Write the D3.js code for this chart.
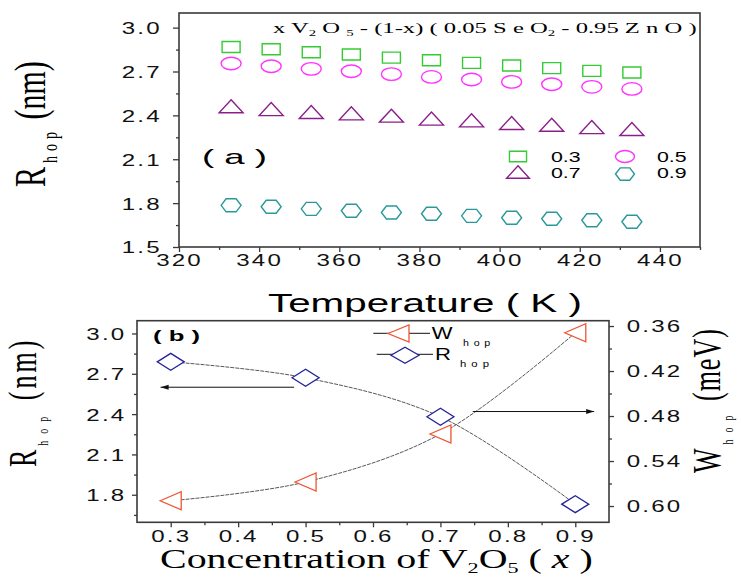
<!DOCTYPE html>
<html><head><meta charset="utf-8">
<script src="https://cdn.jsdelivr.net/npm/d3@7"></script>
<style>body{margin:0;background:#fff}svg{display:block}</style>
</head><body>
<svg id="c" width="741" height="577"></svg>
<script>
// ---------- data ----------
const temps = [333,343,353,363,373,383,393,403,413,423,433];
const r03 = [2.868,2.852,2.832,2.816,2.795,2.777,2.759,2.741,2.723,2.704,2.693];
const r05 = [2.755,2.736,2.718,2.702,2.682,2.663,2.645,2.629,2.613,2.595,2.581];
const r07 = [2.462,2.443,2.423,2.414,2.398,2.378,2.366,2.348,2.336,2.320,2.307];
const r09 = [1.785,1.775,1.761,1.748,1.736,1.727,1.713,1.700,1.693,1.683,1.673];
const seriesNames = ["0.3","0.5","0.7","0.9"];
const conc = [0.3,0.5,0.7,0.9];
const rhop = [2.789,2.670,2.380,1.730];
const whop = [0.593,0.568,0.504,0.369];
const tempTicks = [320,340,360,380,400,420,440];
const tempMinor = [330,350,370,390,410,430,450];
const rTicksTop = [1.5,1.8,2.1,2.4,2.7,3.0];
const rMinorTop = [1.65,1.95,2.25,2.55,2.85];
const concTicks = [0.3,0.4,0.5,0.6,0.7,0.8,0.9];
const concMinor = [0.35,0.45,0.55,0.65,0.75,0.85];
const rTicksBot = [1.8,2.1,2.4,2.7,3.0];
const rMinorBot = [1.65,1.95,2.25,2.55,2.85];
const wTicks = [0.36,0.42,0.48,0.54,0.60];
const wMinor = [0.39,0.45,0.51,0.57];

const svg = d3.select("#c");
const SANS = "'Liberation Sans', Arial, sans-serif";
const SERIF = "'Liberation Serif', 'Times New Roman', serif";
const FRAME = "#3a3a3a";

// ---------- shapes ----------
const shapes = {
  square:(w,h)=>`M${-w/2},${-h/2}H${w/2}V${h/2}H${-w/2}Z`,
  ellipse:(w,h)=>`M${-w/2},0A${w/2},${h/2} 0 1,0 ${w/2},0A${w/2},${h/2} 0 1,0 ${-w/2},0Z`,
  triUp:(w,h)=>`M0,${-h/2}L${w/2},${h/2}L${-w/2},${h/2}Z`,
  hex:(w,h)=>`M${-w/2},0L${-w/4},${-h/2}L${w/4},${-h/2}L${w/2},0L${w/4},${h/2}L${-w/4},${h/2}Z`,
  diamond:(w,h)=>`M${-w/2},0L0,${-h/2}L${w/2},0L0,${h/2}Z`,
  triLeft:(w,h)=>`M${-w/2},0L${w/2},${-h/2}L${w/2},${h/2}Z`
};

function fitText(g, x, y, target, build, opts={}) {
  const t = g.append("text").attr("x",0).attr("y",0)
    .attr("font-family", opts.font||SANS).attr("font-size", opts.size||14)
    .attr("font-weight", opts.weight||"normal").attr("fill", opts.fill||"#000");
  build(t);
  const w = t.node().getBBox().width;
  const s = target / w;
  t.attr("transform", `translate(${x},${y}) scale(${s},1)`);
  return t;
}

function styleTicks(ax) {
  ax.select(".domain").remove();
  ax.selectAll(".tick line").attr("stroke", FRAME).attr("stroke-width", 1.3);
  ax.selectAll("text").attr("font-family", SANS).attr("font-size", 16.5)
    .attr("letter-spacing", "1.5px").attr("fill", "#111");
}

// ================= TOP PANEL =================
const xT = d3.scaleLinear().domain([320,450]).range([179,700]);
const yT = d3.scaleLinear().domain([1.5,3.1]).range([247,13]);
const SX = 1.46;

let ax = svg.append("g").attr("transform","translate(0,247)")
  .call(d3.axisBottom(xT).tickValues(tempTicks).tickSize(5).tickSizeOuter(0).tickFormat(d3.format("d")));
styleTicks(ax);
ax.selectAll("text").attr("y",19).attr("dy",null).attr("transform",`scale(${SX},1)`);
ax = svg.append("g").attr("transform","translate(0,247)")
  .call(d3.axisBottom(xT).tickValues(tempMinor).tickSize(3).tickSizeOuter(0).tickFormat(""));
styleTicks(ax);

ax = svg.append("g").attr("transform","translate(179,0)")
  .call(d3.axisLeft(yT).tickValues(rTicksTop).tickSize(6).tickSizeOuter(0).tickFormat(d3.format(".1f")));
styleTicks(ax);
ax.selectAll("text").attr("x",-17.3/SX).attr("dy","0.36em").attr("transform",`scale(${SX},1)`);
ax = svg.append("g").attr("transform","translate(179,0)")
  .call(d3.axisLeft(yT).tickValues(rMinorTop).tickSize(3).tickSizeOuter(0).tickFormat(""));
styleTicks(ax);

svg.append("rect").attr("x",xT(320)).attr("y",yT(3.1))
  .attr("width",xT(450)-xT(320)).attr("height",yT(1.5)-yT(3.1))
  .attr("fill","none").attr("stroke",FRAME).attr("stroke-width",1.6);

const topSeries = [
  {name:seriesNames[0], vals:r03, shape:"square", w:18, h:11, color:"#33cc33"},
  {name:seriesNames[1], vals:r05, shape:"ellipse", w:20, h:12.5, color:"#ff33ff"},
  {name:seriesNames[2], vals:r07, shape:"triUp", w:24, h:13, color:"#8a1f8a"},
  {name:seriesNames[3], vals:r09, shape:"hex", w:20, h:13, color:"#2a9898"}
];
topSeries.forEach(s=>{
  svg.append("g").selectAll("path").data(temps.map((t,i)=>[t,s.vals[i]])).join("path")
    .attr("transform",d=>`translate(${xT(d[0])},${yT(d[1])})`)
    .attr("d",shapes[s.shape](s.w,s.h))
    .attr("fill","#fff").attr("stroke",s.color).attr("stroke-width",1.4);
});

// legend (top)
const legPos = [[518,156.5,551,161.7],[625,156.5,657,161.7],[518,172,551,177.7],[625,174,657,177.7]];
topSeries.forEach((s,i)=>{
  const p = legPos[i];
  svg.append("path").attr("transform",`translate(${p[0]},${p[1]})`)
    .attr("d",shapes[s.shape](s.w*0.95,s.h*0.95))
    .attr("fill","#fff").attr("stroke",s.color).attr("stroke-width",1.4);
  fitText(svg,p[2],p[3],30,t=>t.text(s.name),{size:14});
});

// title inside top panel
fitText(svg,273,33,424,t=>{
  t.append("tspan").text("x V");
  t.append("tspan").attr("font-size",9).attr("dy",3).text("2");
  t.append("tspan").attr("dy",-3).text(" O ");
  t.append("tspan").attr("font-size",9).attr("dy",3).text("5");
  t.append("tspan").attr("dy",-3).text(" - (1-x) ( 0.05 S e O");
  t.append("tspan").attr("font-size",9).attr("dy",3).text("2");
  t.append("tspan").attr("dy",-3).text(" - 0.95 Z n O )");
},{font:SERIF,size:15});

fitText(svg,202,163.5,65,t=>t.text("( a )"),{size:21});
fitText(svg,268,311.5,314,t=>t.text("Temperature ( K )"),{size:26});

// rotated y label
function rotLabel(x,y,sx,main,sub,rest,mainSize,subSize,subLs,subDy,restLs){
  const t = svg.append("text").attr("font-family",SERIF).attr("font-size",mainSize)
    .attr("transform",`translate(${x},${y}) scale(${sx},1) rotate(-90)`);
  t.append("tspan").text(main);
  t.append("tspan").attr("font-size",subSize).attr("letter-spacing",subLs+"px").attr("dx",4).attr("dy",subDy).text(sub);
  t.append("tspan").attr("dy",-subDy).attr("letter-spacing",restLs+"px").text(rest);
  return t;
}
rotLabel(45,187,1.5,"R","hop"," (nm)",30,14,5,8.2,0);

// ================= BOTTOM PANEL =================
const xB = d3.scaleLinear().domain([0.25,0.95]).range([137,609]);
const yBL = d3.scaleLinear().domain([1.595,3.095]).range([522.3,320.7]);
const yBR = d3.scaleLinear().domain([0.6217,0.3529]).range([522.3,320.7]);

ax = svg.append("g").attr("transform","translate(0,522.3)")
  .call(d3.axisBottom(xB).tickValues(concTicks).tickSize(5).tickSizeOuter(0).tickFormat(d3.format(".1f")));
styleTicks(ax);
ax.selectAll("text").attr("y",19.4).attr("dy",null).attr("transform",`scale(${SX},1)`);
ax = svg.append("g").attr("transform","translate(0,522.3)")
  .call(d3.axisBottom(xB).tickValues(concMinor).tickSize(3).tickSizeOuter(0).tickFormat(""));
styleTicks(ax);

ax = svg.append("g").attr("transform","translate(137,0)")
  .call(d3.axisLeft(yBL).tickValues(rTicksBot).tickSize(5).tickSizeOuter(0).tickFormat(d3.format(".1f")));
styleTicks(ax);
ax.selectAll("text").attr("x",-10.6/SX).attr("dy","0.36em").attr("transform",`scale(${SX},1)`);
ax = svg.append("g").attr("transform","translate(137,0)")
  .call(d3.axisLeft(yBL).tickValues(rMinorBot).tickSize(3).tickSizeOuter(0).tickFormat(""));
styleTicks(ax);

ax = svg.append("g").attr("transform","translate(609,0)")
  .call(d3.axisRight(yBR).tickValues(wTicks).tickSize(5).tickSizeOuter(0).tickFormat(d3.format(".2f")));
styleTicks(ax);
ax.selectAll("text").attr("x",17.7/SX).attr("dy","0.36em").attr("transform",`scale(${SX},1)`);
ax = svg.append("g").attr("transform","translate(609,0)")
  .call(d3.axisRight(yBR).tickValues(wMinor).tickSize(3).tickSizeOuter(0).tickFormat(""));
styleTicks(ax);

svg.append("rect").attr("x",xB(0.25)).attr("y",yBL(3.095))
  .attr("width",xB(0.95)-xB(0.25)).attr("height",yBL(1.595)-yBL(3.095))
  .attr("fill","none").attr("stroke",FRAME).attr("stroke-width",1.6);

// curves
const lineR = d3.line().x(d=>xB(d[0])).y(d=>yBL(d[1])).curve(d3.curveCatmullRom.alpha(0.5));
const lineW = d3.line().x(d=>xB(d[0])).y(d=>yBR(d[1])).curve(d3.curveCatmullRom.alpha(0.5));
const rData = conc.map((c,i)=>[c,rhop[i]]);
const wData = conc.map((c,i)=>[c,whop[i]]);
svg.append("path").attr("d",lineR(rData)).attr("fill","none").attr("stroke","#444").attr("stroke-width",0.9).attr("stroke-dasharray","4,1");
svg.append("path").attr("d",lineW(wData)).attr("fill","none").attr("stroke","#444").attr("stroke-width",0.9).attr("stroke-dasharray","4,1");

const RED = "#ee5533", NAVY = "#22229a";
svg.append("g").selectAll("path").data(wData).join("path")
  .attr("transform",d=>`translate(${xB(d[0])},${yBR(d[1])})`)
  .attr("d",shapes.triLeft(21,18)).attr("fill","#fff").attr("stroke",RED).attr("stroke-width",1.3);
svg.append("g").selectAll("path").data(rData).join("path")
  .attr("transform",d=>`translate(${xB(d[0])},${yBL(d[1])})`)
  .attr("d",shapes.diamond(27,17)).attr("fill","#fff").attr("stroke",NAVY).attr("stroke-width",1.3);

// arrows
function arrow(x1,x2,y){
  svg.append("line").attr("x1",x1).attr("x2",x2).attr("y1",y).attr("y2",y).attr("stroke","#111").attr("stroke-width",1);
  const dir = Math.sign(x2-x1);
  svg.append("path").attr("d",`M${x2},${y}L${x2-dir*8},${y-2.5}L${x2-dir*8},${y+2.5}Z`).attr("fill","#111");
}
arrow(xB(0.483),xB(0.285),yBL(2.6));
arrow(xB(0.748),xB(0.928),yBR(0.474));

// legend (bottom)
svg.append("line").attr("x1",373.3).attr("x2",430).attr("y1",333.3).attr("y2",333.3).attr("stroke","#111");
svg.append("path").attr("transform","translate(398.5,333.5)").attr("d",shapes.triLeft(21,17))
  .attr("fill","#fff").attr("stroke",RED).attr("stroke-width",1.3);
svg.append("line").attr("x1",376.7).attr("x2",433).attr("y1",354.3).attr("y2",354.3).attr("stroke","#111");
svg.append("path").attr("transform","translate(405,355.3)").attr("d",shapes.diamond(28,16))
  .attr("fill","#fff").attr("stroke",NAVY).attr("stroke-width",1.3);
fitText(svg,431.7,339,22,t=>t.text("W"),{size:16});
fitText(svg,463,345.5,32,t=>t.attr("letter-spacing","4px").text("hop"),{size:9});
fitText(svg,435,360,16,t=>t.text("R"),{size:16});
fitText(svg,460,367,34,t=>t.attr("letter-spacing","4px").text("hop"),{size:9});

fitText(svg,153,340.5,47,t=>t.text("( b )"),{size:14,weight:"bold"});

// rotated labels (bottom)
rotLabel(36,467,1.5,"R","hop"," (nm)",26,10,7,8.1,3);
rotLabel(720,473,1.5,"W","hop"," (meV)",26,10,7,8.7,1);

// x title (bottom)
fitText(svg,160,568,433,t=>{
  t.append("tspan").text("Concentration of V");
  t.append("tspan").attr("font-size",15).attr("dy",5).text("2");
  t.append("tspan").attr("dy",-5).text("O");
  t.append("tspan").attr("font-size",15).attr("dy",5).text("5");
  t.append("tspan").attr("dy",-5).text(" ( ");
  t.append("tspan").attr("font-style","italic").text("x");
  t.append("tspan").text(" )");
},{font:SERIF,size:27});
</script>
</body></html>
